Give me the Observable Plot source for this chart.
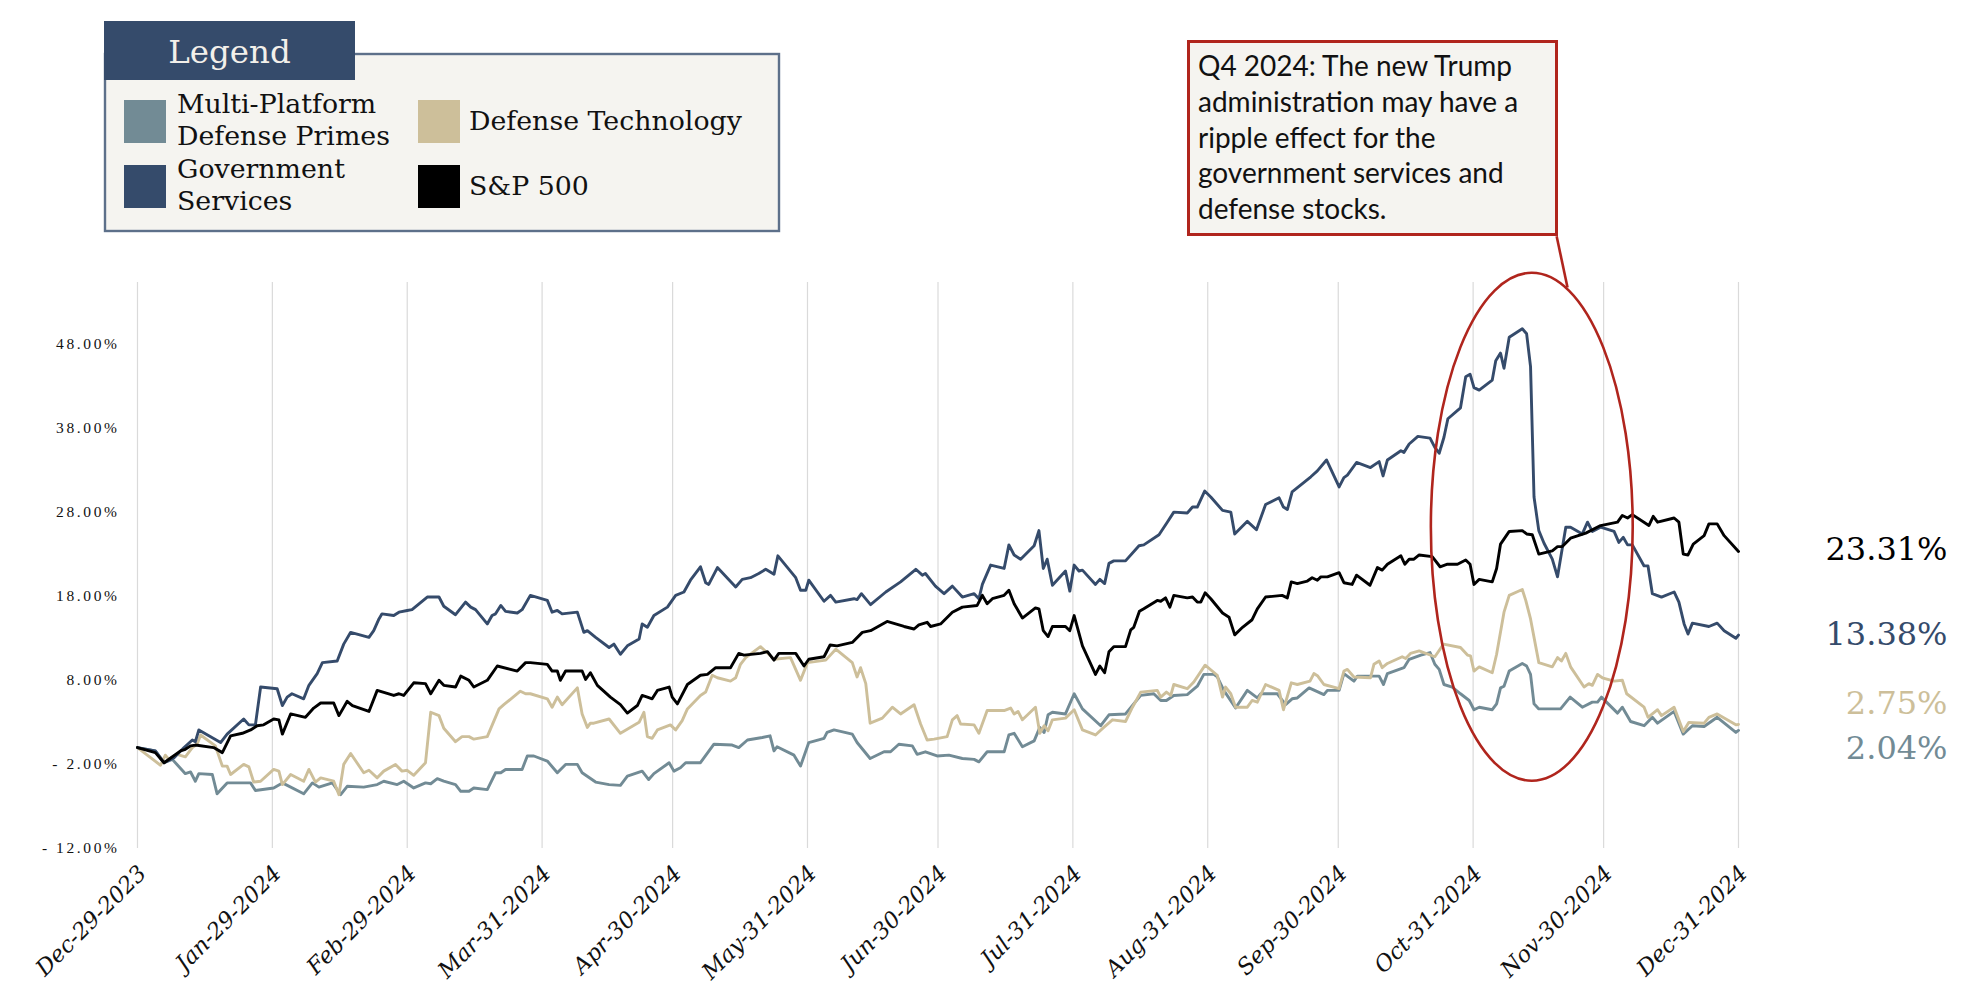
<!DOCTYPE html>
<html>
<head>
<meta charset="utf-8">
<script src="https://cdn.jsdelivr.net/npm/d3@7"></script>
<script src="https://cdn.jsdelivr.net/npm/@observablehq/plot@0.6"></script>
<style>
  html, body { margin: 0; padding: 0; background: #ffffff; }
  #wrap { position: relative; width: 1966px; height: 998px; overflow: hidden; background: #fff; }
  #chart { position: absolute; left: 0; top: 0; }
  #overlay { position: absolute; left: 0; top: 0; }
  g[aria-label="y-axis tick label"] { font-family: "Liberation Serif", serif; letter-spacing: 2.6px; }
  g[aria-label="x-axis tick label"] { font-family: "DejaVu Serif", serif; font-style: italic; }
</style>
</head>
<body>
<div id="wrap">
  <div id="chart"></div>
  <svg id="overlay" width="1966" height="260"></svg>
</div>
<script>
// ---------------- DATA ----------------
const START_DATE = "2023-12-29";
const X_TICK_LABELS = ["Dec-29-2023","Jan-29-2024","Feb-29-2024","Mar-31-2024","Apr-30-2024","May-31-2024","Jun-30-2024","Jul-31-2024","Aug-31-2024","Sep-30-2024","Oct-31-2024","Nov-30-2024","Dec-31-2024"];
const Y_TICKS = [-12, -2, 8, 18, 28, 38, 48];

const SERIES_NAMES = ["Multi-Platform Defense Primes", "Defense Technology", "Government Services", "S&P 500"];
const SERIES_COLORS = ["#728b95", "#cdbf9a", "#354b6b", "#000000"];

// [days since START_DATE, cumulative return %]
const multiPlatform = [[0,0],[4.1,-0.4],[6.1,-1.8],[8.0,-1.4],[11.0,-3.1],[12.2,-2.9],[13.3,-4.0],[14.1,-3.1],[17.2,-3.2],[18.3,-5.5],[20.6,-4.2],[26.0,-4.2],[27.1,-5.1],[31.3,-4.8],[33.3,-4.2],[38.2,-5.5],[40.2,-4.2],[41.7,-4.7],[44.8,-4.2],[46.7,-5.6],[48.2,-4.6],[52.0,-4.7],[55.1,-4.4],[56.6,-4.0],[59.7,-4.4],[61.2,-4.0],[63.5,-4.8],[66.2,-4.2],[67.4,-4.3],[68.9,-3.7],[70.4,-4.0],[73.1,-4.4],[74.3,-5.2],[76.2,-5.2],[77.3,-4.8],[80.4,-5.0],[82.3,-3.0],[83.5,-3.0],[84.6,-2.6],[88.4,-2.6],[89.6,-1.0],[91.1,-1.0],[94.2,-1.6],[96.5,-3.0],[98.4,-2.0],[101.1,-2.0],[102.2,-3.0],[105.3,-4.1],[108.4,-4.4],[111.0,-4.5],[112.6,-3.4],[116.0,-2.8],[117.5,-3.8],[118.7,-3.1],[122.2,-1.8],[123.3,-2.8],[124.8,-2.4],[126.0,-1.8],[129.4,-1.8],[132.5,0.4],[136.7,0.3],[138.2,0.0],[140.2,0.9],[143.6,1.2],[145.4,1.4],[146.3,-0.4],[147.0,0.1],[150.9,-0.9],[152.4,-2.2],[154.3,0.6],[157.8,1.1],[158.5,1.8],[160.1,2.1],[164.3,1.6],[165.4,0.6],[168.4,-1.3],[171.6,-0.5],[173.1,-0.5],[175.0,0.4],[178.1,0.2],[179.2,-0.8],[181.1,-0.5],[183.8,-1.0],[186.5,-0.9],[189.6,-1.3],[192.3,-1.4],[193.4,-1.7],[195.3,-0.5],[199.2,-0.5],[200.3,1.5],[201.5,1.7],[203.4,0.1],[206.1,0.8],[207.4,2.4],[208.4,1.8],[209.3,3.9],[210.3,4.2],[213.3,4.0],[215.3,6.4],[217.2,4.6],[221.4,2.6],[223.3,3.9],[227.1,4.0],[230.6,6.2],[233.6,6.4],[235.2,5.6],[236.5,5.6],[238.2,6.2],[241.3,6.3],[243.6,7.3],[245.1,8.7],[247.4,8.7],[248.2,8.4],[249.7,6.8],[252.4,4.7],[255.1,6.8],[257.4,5.9],[258.2,6.4],[262.0,6.4],[263.9,5.1],[265.4,5.8],[266.6,5.9],[269.3,7.1],[272.7,6.3],[273.5,6.8],[276.2,6.8],[277.3,8.8],[279.6,7.9],[280.4,8.5],[285.4,8.5],[286.4,7.5],[287.3,8.8],[291.1,9.5],[292.3,10.5],[295.0,11.0],[297.1,11.3],[298.2,9.9],[299.2,9.3],[300.3,7.5],[302.2,7.2],[304.1,6.4],[306.1,5.6],[307.2,4.5],[308.4,4.8],[311.4,4.5],[312.4,5.2],[313.3,7.1],[314.1,7.3],[315.3,9.1],[318.3,10.0],[319.3,9.7],[320.2,8.7],[321.0,5.2],[322.1,4.6],[327.1,4.6],[329.3,6.0],[332.1,4.8],[334.4,5.4],[335.6,5.4],[336.5,6.0],[340.2,4.1],[341.3,4.8],[343.2,3.1],[346.3,2.6],[348.2,3.6],[349.4,2.9],[353.2,4.3],[355.3,1.6],[357.4,2.6],[360.1,2.5],[363.1,3.6],[367.4,1.8],[368,2.04]];

const defenseTech = [[0,0],[3.0,-1.2],[5.3,-2.1],[6.4,-0.9],[7.2,-1.4],[9.1,-0.8],[11.0,-1.1],[12.6,0],[13.7,0.4],[14.5,1.5],[17.9,0.2],[19.5,-2.2],[20.6,-2.2],[21.4,-3.2],[24.4,-2.0],[25.6,-2.3],[26.7,-4.1],[28.3,-4.0],[31.3,-2.6],[32.5,-2.8],[33.3,-4.4],[35.2,-3.2],[38.2,-4.0],[39.4,-2.6],[40.9,-4.1],[42.1,-3.6],[45.1,-4.0],[46.3,-5.6],[47.4,-2.0],[49.0,-0.7],[52.0,-3.0],[53.2,-2.7],[55.1,-3.6],[56.6,-2.8],[59.3,-2.0],[60.8,-2.8],[62.0,-2.7],[63.5,-3.3],[66.2,-1.8],[67.4,4.2],[69.3,3.8],[70.4,2.3],[73.1,0.7],[74.6,1.3],[76.2,1.3],[77.3,1.0],[80.4,1.3],[83.1,4.6],[84.2,5.1],[88.0,6.7],[89.2,6.4],[90.3,6.4],[94.2,5.8],[95.3,4.8],[96.5,6.0],[97.6,5.1],[101.1,7.1],[102.2,4.0],[103.4,2.4],[104.1,2.9],[104.9,2.9],[108.4,3.4],[111.0,1.7],[115.3,3.0],[116.4,4.2],[117.2,1.3],[118.3,1.1],[119.5,2.1],[122.5,2.7],[123.7,2.1],[125.2,3.2],[126.4,4.6],[129.4,6.2],[130.6,6.6],[132.1,8.6],[133.3,8.3],[136.3,7.9],[137.5,8.3],[138.6,9.9],[139.8,10.7],[143.2,12.0],[145.1,11.1],[146.3,10.5],[150.1,10.7],[152.4,8.0],[154.0,10.1],[158.2,10.4],[160.5,11.7],[164.3,10.1],[165.4,8.4],[166.2,9.5],[167.4,7.6],[168.4,2.9],[171.2,3.5],[173.5,4.8],[175.4,4.0],[178.5,5.1],[180.0,2.8],[181.5,0.9],[183.1,1.0],[186.1,1.3],[187.3,3.3],[188.4,3.8],[189.2,2.8],[192.3,2.7],[193.4,1.7],[195.3,4.4],[199.2,4.4],[200.7,4.7],[201.5,4.0],[202.4,4.3],[203.4,3.3],[206.4,4.8],[207.4,1.7],[208.4,2.6],[209.3,2.0],[210.3,3.3],[213.3,3.5],[215.3,4.5],[217.2,2.1],[220.2,1.5],[222.1,2.4],[224.1,3.3],[227.1,3.1],[228.7,4.8],[230.6,6.6],[234.4,6.8],[235.2,6.0],[236.5,6.6],[237.5,6.2],[238.2,7.5],[241.3,7.0],[242.8,7.8],[245.4,9.8],[248.2,8.6],[249.4,6.0],[250.1,7.2],[251.3,6.4],[252.4,4.8],[255.1,4.8],[256.2,5.6],[257.4,5.4],[259.3,7.5],[262.4,6.8],[263.4,4.5],[265.2,7.7],[266.6,7.5],[269.5,7.9],[270.4,8.8],[271.3,8.5],[272.7,7.5],[276.2,7.0],[277.3,9.1],[278.1,9.3],[279.6,8.4],[283.4,8.3],[284.2,9.9],[285.4,10.3],[286.1,9.5],[287.3,10.0],[290.7,10.8],[291.5,10.6],[292.6,11.2],[294.6,11.5],[298.2,10.8],[300.2,12.3],[304.1,11.9],[305.7,11.0],[306.4,10.9],[307.2,9.1],[308.4,9.6],[311.4,8.9],[312.4,11.1],[314.1,16.1],[315.3,18.1],[318.3,18.8],[319.1,17.5],[320.2,15.3],[322.1,10.1],[325.2,9.6],[326.4,10.7],[327.3,10.3],[328.3,11.2],[329.4,9.6],[332.5,7.2],[333.6,7.6],[334.4,7.4],[335.6,8.7],[336.7,8.3],[339.4,7.9],[341.3,8.0],[342.3,6.4],[346.3,4.8],[347.2,3.6],[349.4,4.5],[350.3,3.8],[353.2,4.8],[355.3,1.9],[356.6,3.0],[360.1,2.9],[361.2,3.6],[363.1,4.0],[367.4,2.7],[368,2.75]];

const govServices = [[0,0],[4.1,-0.4],[6.1,-1.8],[8.4,-1.2],[10.7,0],[12.6,0.9],[13.3,0.7],[14.1,2.1],[19.1,0.6],[20.6,1.6],[24.4,3.4],[25.6,2.7],[27.1,2.7],[28.3,7.2],[32.1,7.0],[33.3,5.0],[34.4,6.0],[35.5,6.4],[38.2,5.8],[39.4,7.4],[41.3,8.8],[42.5,10.1],[45.9,10.3],[47.4,12.3],[49.0,13.7],[53.2,13.1],[54.3,13.9],[55.5,15.3],[56.2,15.9],[58.9,15.7],[60.1,16.1],[62.0,16.3],[63.1,16.4],[66.6,17.9],[69.3,17.9],[70.4,16.8],[73.1,15.8],[75.4,17.3],[76.6,16.7],[77.7,16.4],[80.4,14.7],[81.5,15.7],[82.3,15.9],[83.5,16.9],[84.6,16.2],[87.3,16.0],[88.4,16.4],[90.3,18.1],[94.2,17.5],[95.3,16.1],[96.5,16.3],[97.6,15.9],[101.1,16.1],[102.6,13.7],[103.4,13.9],[105.3,13.1],[108.4,11.9],[109.5,12.3],[111.0,11.1],[112.6,12.1],[115.3,12.9],[116.0,14.7],[117.2,14.3],[118.7,15.7],[121.8,16.7],[123.7,18.1],[125.6,18.5],[127.1,19.9],[129.4,21.5],[130.6,19.6],[131.3,19.4],[133.3,21.4],[137.5,19.1],[139.0,20.0],[140.9,20.2],[142.8,20.7],[144.4,21.2],[146.3,20.6],[147.2,22.8],[151.3,20.2],[152.4,18.7],[153.6,18.7],[154.3,19.9],[157.8,17.4],[159.3,18.1],[160.5,17.3],[164.7,17.7],[165.4,17.6],[166.4,18.3],[168.5,17.0],[172.0,18.5],[175.4,19.7],[178.9,21.2],[180.4,20.5],[181.1,20.7],[183.4,19.2],[185.4,18.3],[187.3,19.2],[189.6,17.9],[192.3,18.3],[193.4,17.7],[194.2,19.4],[196.1,21.7],[199.2,21.3],[200.3,24.1],[201.5,22.9],[203.0,22.4],[206.1,24.0],[207.2,25.8],[208.2,21.3],[209.1,22.4],[210.3,19.3],[213.3,21.0],[214.3,18.6],[215.3,21.7],[216.4,21.0],[217.2,21.1],[220.2,19.4],[221.2,20.0],[222.3,19.5],[223.3,21.9],[224.4,22.2],[227.1,22.2],[230.2,24.0],[231.3,24.1],[234.8,25.3],[236.7,26.8],[238.2,28.0],[241.3,27.9],[242.5,28.6],[243.6,28.6],[245.3,30.5],[246.7,29.8],[249.4,28.2],[251.3,28.0],[252.2,25.4],[255.1,26.9],[257.2,25.9],[259.3,28.9],[262.4,29.7],[263.4,28.6],[264.3,28.3],[265.4,30.4],[269.7,32.2],[271.2,32.9],[273.3,34.2],[276.2,31.0],[277.3,32.1],[278.1,32.4],[280.2,33.9],[283.4,33.3],[285.4,34.0],[286.3,32.3],[287.3,34.2],[290.4,35.3],[291.1,35.1],[292.3,36.1],[294.3,37.0],[297.1,36.8],[298.2,35.7],[299.2,35.0],[300.3,36.9],[301.2,39.1],[304.1,40.4],[305.3,44.1],[306.3,44.4],[307.2,42.8],[308.4,42.5],[311.4,43.7],[312.2,46.0],[313.3,46.9],[314.1,45.1],[315.3,48.8],[318.3,49.8],[319.3,49.2],[320.2,45.3],[321.0,29.8],[322.1,25.8],[323.3,24.3],[325.2,22.4],[326.4,20.3],[328.3,26.2],[329.4,26.2],[332.1,25.4],[333.3,26.8],[334.4,25.7],[336.3,26.2],[339.4,25.7],[340.5,24.4],[341.5,25.0],[342.5,24.1],[343.6,24.1],[346.3,21.6],[347.2,21.6],[348.2,18.3],[350.3,17.9],[353.2,18.5],[354.3,17.3],[355.5,14.7],[356.4,13.5],[357.4,14.8],[361.2,14.4],[363.1,14.8],[364.7,13.9],[367.4,13.0],[368,13.38]];

const sp500 = [[0,0],[4.1,-0.6],[6.1,-1.8],[9.9,-0.4],[11.0,-0.2],[12.2,0.2],[13.3,0.3],[17.5,0],[19.5,-0.6],[21.4,1.4],[24.1,1.7],[26.0,2.1],[27.5,2.6],[29.0,2.7],[31.3,3.4],[32.5,3.3],[33.3,1.6],[35.2,4.0],[38.6,3.6],[40.5,4.7],[42.1,5.3],[45.1,5.3],[46.3,3.8],[48.2,5.5],[49.4,5.0],[53.2,4.3],[55.1,6.8],[58.9,6.2],[60.1,6.4],[61.2,6.2],[63.5,7.7],[66.2,7.6],[67.4,6.4],[69.3,8.0],[70.4,7.4],[73.1,7.2],[74.3,8.5],[76.2,8.0],[77.3,7.2],[80.4,8.0],[82.7,9.7],[87.3,9.1],[89.2,10.1],[90.3,10.1],[94.2,9.9],[95.3,9.1],[96.5,9.1],[97.2,8.0],[98.4,9.1],[102.2,9.1],[103.0,8.1],[104.1,8.9],[105.7,7.4],[108.7,6.0],[111.0,5.1],[112.6,4.1],[114.9,5.0],[116.0,6.2],[117.2,6.0],[118.3,5.8],[119.5,6.8],[122.2,7.2],[122.9,6.0],[124.1,5.2],[126.4,7.5],[129.4,8.6],[131.0,8.7],[132.9,9.5],[136.3,9.5],[138.2,11.2],[139.4,11.0],[143.2,11.2],[144.8,11.4],[146.3,10.4],[147.4,11.2],[151.3,11.2],[153.2,9.7],[154.3,10.5],[157.8,10.8],[159.2,12.2],[160.8,12.1],[164.3,12.5],[166.6,13.7],[168.5,13.9],[172.3,15.0],[176.2,14.4],[178.5,14.1],[179.6,14.6],[181.5,14.9],[182.3,14.4],[184.6,14.7],[187.3,16.1],[189.6,16.7],[193.0,16.9],[194.2,18.1],[195.3,17.1],[196.5,17.7],[199.2,18.1],[200.3,18.7],[201.5,17.1],[203.4,15.4],[206.4,16.6],[207.2,16.5],[208.2,13.9],[209.3,13.2],[210.3,14.4],[213.3,14.4],[214.3,13.9],[215.3,15.7],[217.2,12.1],[220.2,8.7],[221.2,9.7],[222.3,8.9],[223.3,11.4],[224.4,12.0],[227.1,12.0],[228.3,14.0],[229.0,14.3],[230.3,16.2],[231.3,16.5],[234.4,17.5],[235.2,17.4],[236.3,17.8],[237.3,16.7],[238.2,18.1],[241.3,17.8],[242.5,17.9],[243.6,17.3],[244.4,17.3],[245.4,18.4],[246.7,17.7],[249.4,16.0],[250.9,15.5],[252.2,13.4],[254.0,14.3],[256.2,15.2],[257.4,16.5],[259.3,17.9],[263.1,18.1],[264.3,17.8],[265.2,19.7],[266.6,19.5],[268.9,19.8],[270.0,20.2],[271.2,19.9],[272.0,20.3],[273.5,20.3],[276.2,20.8],[277.3,19.6],[279.2,19.4],[280.2,20.5],[283.3,19.3],[285.0,21.4],[286.1,21.1],[287.3,21.8],[290.4,22.8],[291.3,21.8],[292.3,22.4],[293.4,22.4],[294.6,22.9],[297.6,22.7],[299.4,21.5],[301.1,21.8],[303.4,21.8],[305.3,22.3],[306.3,21.8],[307.2,19.4],[308.4,20.0],[311.4,19.7],[312.4,21.3],[313.3,24.2],[315.3,25.7],[318.3,25.8],[319.3,25.4],[320.6,25.3],[322.1,23.0],[325.2,23.4],[326.4,23.9],[327.5,23.9],[329.4,24.9],[332.9,25.5],[336.3,26.4],[340.2,26.8],[341.3,27.6],[342.5,27.3],[343.6,27.7],[347.4,26.4],[348.4,27.5],[349.4,26.8],[353.2,27.3],[354.3,26.8],[355.3,23.0],[356.4,22.9],[357.6,24.2],[360.1,25.2],[361.2,26.6],[363.1,26.6],[364.7,25.2],[368,23.31]];

const END_LABEL_TEXT = ["2.04%", "2.75%", "13.38%", "23.31%"];
const END_LABEL_DY = [18, -21, 0, -2];

const ANNOTATION_LINES = ["Q4 2024: The new Trump", "administration may have a", "ripple effect for the", "government services and", "defense stocks."];
// Highlight ellipse in data space: centre day/value and half-extents (days, % points)
const HIGHLIGHT = {day: 320.6, value: 26.2, halfDays: 23.2, halfPct: 30.2};
const CONNECTOR = {day1: 326.2, value1: 60.8, day2: 328.7, value2: 54.7};

// ---------------- BUILD ----------------
const start = d3.utcParse("%Y-%m-%d")(START_DATE);
const dayToDate = d => new Date(start.getTime() + d * 864e5);
const parseTick = d3.utcParse("%b-%d-%Y");
const xTicks = X_TICK_LABELS.map(parseTick);
const labelByTime = new Map(xTicks.map((d, i) => [+d, X_TICK_LABELS[i]]));
const fmtY = v => (v < 0 ? "- " + Math.abs(v).toFixed(2) : v.toFixed(2)) + "%";

const allSeries = [multiPlatform, defenseTech, govServices, sp500];
const rows = allSeries.map((s, k) => s.map(([d, v]) => ({date: dayToDate(d), value: v, series: SERIES_NAMES[k]})));

const lineMarks = rows.map((r, k) => Plot.line(r, {
  x: "date", y: "value", stroke: SERIES_COLORS[k], strokeWidth: 2.9,
  strokeLinejoin: "round", strokeLinecap: "round", curve: "linear"
}));

const endLabelMarks = rows.map((r, k) => Plot.text([r[r.length - 1]], {
  x: "date", y: "value", text: () => END_LABEL_TEXT[k],
  dx: 209, dy: END_LABEL_DY[k], textAnchor: "end",
  fill: SERIES_COLORS[k], fontSize: 32, fontFamily: "DejaVu Serif"
}));

const ellipseMark = (index, scales) => {
  const cx = scales.x(dayToDate(HIGHLIGHT.day));
  const cy = scales.y(HIGHLIGHT.value);
  const rx = scales.x(dayToDate(HIGHLIGHT.day + HIGHLIGHT.halfDays)) - cx;
  const ry = scales.y(HIGHLIGHT.value - HIGHLIGHT.halfPct) - cy;
  return d3.create("svg:ellipse")
    .attr("cx", cx).attr("cy", cy).attr("rx", rx).attr("ry", ry)
    .attr("fill", "none").attr("stroke", "#b0251d").attr("stroke-width", 2.6)
    .node();
};

const plot = Plot.plot({
  width: 1966,
  height: 998,
  marginLeft: 137,
  marginRight: 228,
  marginTop: 282,
  marginBottom: 150,
  style: {background: "transparent", fontFamily: "DejaVu Serif", color: "#111"},
  x: {type: "utc", domain: [xTicks[0], xTicks[xTicks.length - 1]]},
  y: {domain: [-12, 55.3]},
  marks: [
    Plot.gridX(xTicks, {stroke: "#dadada", strokeOpacity: 1, strokeWidth: 1.2}),
    Plot.axisY(Y_TICKS, {tickFormat: fmtY, tickSize: 0, tickPadding: 18, fontSize: 15.5, fill: "#111"}),
    Plot.axisX(xTicks, {
      tickFormat: d => labelByTime.get(+d), tickSize: 0, tickPadding: 21, dx: 5,
      tickRotate: -45, textAnchor: "end", lineAnchor: "middle", fontSize: 22.5, fill: "#111"
    }),
    ...lineMarks,
    ...endLabelMarks,
    ellipseMark,
    Plot.link([CONNECTOR], {
      x1: d => dayToDate(d.day1), y1: "value1", x2: d => dayToDate(d.day2), y2: "value2",
      stroke: "#b0251d", strokeWidth: 2.6
    })
  ]
});
document.getElementById("chart").appendChild(plot);

// ---------------- LEGEND + ANNOTATION ----------------
const ov = d3.select("#overlay");
ov.append("rect").attr("x", 105).attr("y", 54).attr("width", 674).attr("height", 177)
  .attr("fill", "#f5f4f0").attr("stroke", "#5d708a").attr("stroke-width", 2.4);
ov.append("rect").attr("x", 104).attr("y", 21).attr("width", 251).attr("height", 59).attr("fill", "#354b6b");
ov.append("text").attr("x", 229.5).attr("y", 63).attr("text-anchor", "middle")
  .attr("font-family", "DejaVu Serif").attr("font-size", 32.5).attr("fill", "#f3f0ea").text("Legend");

const legendItems = [
  {k: 0, x: 124, y: 100, lines: ["Multi-Platform", "Defense Primes"], tx: 177, ty: 113},
  {k: 2, x: 124, y: 165, lines: ["Government", "Services"], tx: 177, ty: 178},
  {k: 1, x: 418, y: 100, lines: ["Defense Technology"], tx: 469, ty: 130},
  {k: 3, x: 418, y: 165, lines: ["S&P 500"], tx: 469, ty: 195}
];
legendItems.forEach(it => {
  ov.append("rect").attr("x", it.x).attr("y", it.y).attr("width", 42).attr("height", 43).attr("fill", SERIES_COLORS[it.k]);
  const t = ov.append("text").attr("x", it.tx).attr("y", it.ty)
    .attr("font-family", "DejaVu Serif").attr("font-size", 26.8).attr("fill", "#111");
  it.lines.forEach((ln, i) => t.append("tspan").attr("x", it.tx).attr("dy", i ? 32 : 0).text(ln));
});

ov.append("rect").attr("x", 1188.5).attr("y", 41.5).attr("width", 368).attr("height", 193)
  .attr("fill", "#f5f4f0").attr("stroke", "#b0251d").attr("stroke-width", 3);
const at = ov.append("text").attr("x", 1198).attr("y", 76)
  .attr("font-family", "Lato").attr("font-size", 28).attr("fill", "#111");
ANNOTATION_LINES.forEach((ln, i) => at.append("tspan").attr("x", 1198).attr("dy", i ? 35.8 : 0).text(ln));
</script>
</body>
</html>
